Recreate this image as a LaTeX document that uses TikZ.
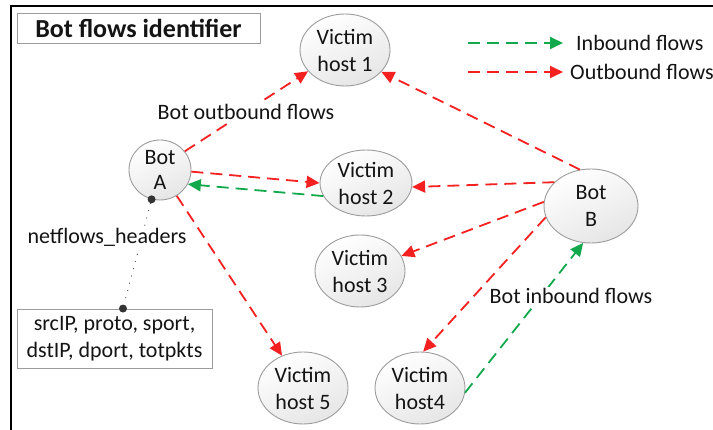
\documentclass[tikz,border=0pt]{standalone}
\usepackage{fontspec}
\setmainfont{Carlito}
\usetikzlibrary{shapes.geometric,arrows.meta,calc}
\definecolor{flowred}{HTML}{F52020}
\definecolor{flowgreen}{HTML}{12A84C}
\definecolor{rimgray}{HTML}{9C9C9C}
\definecolor{inkgray}{HTML}{141414}
\newcommand{\bodyfont}{\fontsize{22}{27}\selectfont}
\newcommand{\titlefont}{\fontsize{26}{30}\selectfont\bfseries}
\begin{document}
\begin{tikzpicture}[x=1pt,y=-1pt,
  hostnode/.style={ellipse, draw=rimgray, line width=0.9pt,
    top color=white, bottom color=gray!20, shading angle=25,
    minimum width=90pt, minimum height=72pt, inner sep=0pt,
    align=center, font=\bodyfont, text=inkgray},
  boxnode/.style={draw=rimgray, line width=0.9pt, inner sep=0pt, align=center, text=inkgray},
  tagnode/.style={fill=white, inner sep=1.5pt, font=\bodyfont, text=inkgray},
  legendtext/.style={anchor=west, inner sep=0pt, font=\bodyfont, text=inkgray},
  outflow/.style={draw=flowred, line width=1.8pt, dash pattern=on 12pt off 7pt,
    -{Triangle[length=13pt,width=12pt]}},
  inflow/.style={draw=flowgreen, line width=1.8pt, dash pattern=on 12pt off 7pt,
    -{Triangle[length=13pt,width=12pt]}},
  headerdot/.style={circle, fill=black!80, inner sep=0pt, minimum size=8pt},
]
\useasboundingbox (0,0) rectangle (713,430);
\clip (0,0) rectangle (713,430);

% outer frame
\draw[line width=2pt] (10.5,440) -- (10.5,6) -- (720,6);

% title and header field boxes
\node[boxnode, minimum width=243pt, minimum height=30pt, font=\titlefont] (title) at (138.5,28) {Bot flows identifier};
\node[boxnode, minimum width=195pt, minimum height=59pt, font=\bodyfont] (fields) at (114.5,338.5) {srcIP, proto, sport,\\dstIP, dport, totpkts};

% hosts
\node[hostnode, minimum width=62pt, minimum height=60pt] (botA) at (160,170) {Bot\\[-2pt]A};
\node[hostnode, minimum width=94pt, minimum height=74pt] (botB) at (591,206) {Bot\\B};
\node[hostnode] (h1) at (345,50) {Victim\\host 1};
\node[hostnode, minimum width=92pt, minimum height=66pt] (h2) at (366,183) {Victim\\host 2};
\node[hostnode] (h3) at (360,271) {Victim\\host 3};
\node[hostnode] (h4) at (420,388) {Victim\\host4};
\node[hostnode] (h5) at (303,388) {Victim\\host 5};

% flows of bot A
\draw[outflow] (botA.37) -- (h1.210);
\draw[outflow] (botA.357) -- (h2.180);
\draw[inflow] (h2.197) -- (botA.333);
\draw[outflow] (botA.303) -- (h5.123);

% flows of bot B
\draw[outflow] (botB.107) -- (h1.329);
\draw[outflow] (botB.147) -- (h2.355);
\draw[outflow] (botB.175) -- (h3.20);
\draw[outflow] (botB.194) -- (h4.85);
\draw[inflow] (h4.354) -- (botB.258);

% header fields attached to bot A
\node[headerdot] (dotA) at (botA.254) {};
\node[headerdot] (dotF) at ([xshift=8.5pt]fields.north) {};
\draw[black!75, line width=1.2pt, line cap=round, dash pattern=on 0pt off 7.5pt] (dotA) -- (dotF);

% labels on the connectors
\node[tagnode] (outlabel) at (246,112) {Bot outbound flows};
\node[tagnode] (hdrlabel) at (107,237) {netflows\_headers};
\node[tagnode] (inlabel) at (571,296) {Bot inbound flows};

% legend
\coordinate (lgA0) at (468,43);
\coordinate (lgA1) at (563,43);
\coordinate (lgB0) at (468,72);
\coordinate (lgB1) at (563,72);
\draw[inflow] (lgA0) -- (lgA1);
\draw[outflow] (lgB0) -- (lgB1);
\node[legendtext] (lgAtext) at (576,43) {Inbound flows};
\node[legendtext] (lgBtext) at (570,72) {Outbound flows};
\end{tikzpicture}
\end{document}
